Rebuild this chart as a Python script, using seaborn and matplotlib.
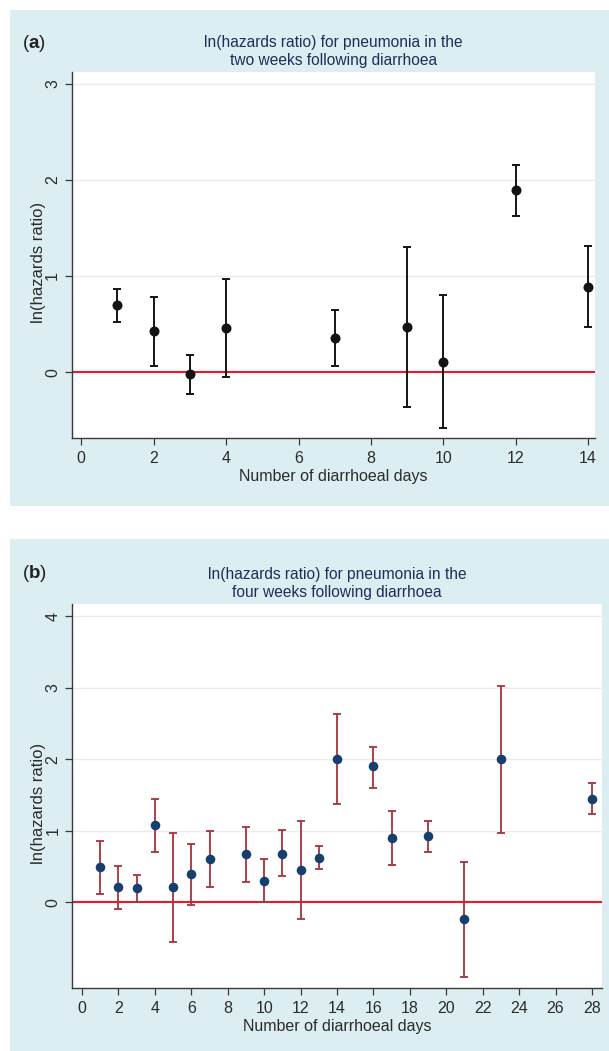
import numpy as np
import pandas as pd
import matplotlib
matplotlib.use("Agg")
import matplotlib.pyplot as plt
from matplotlib.patches import Rectangle
import seaborn as sns

# ---------------- data ----------------
days_a = [1, 2, 3, 4, 7, 9, 10, 12, 14]
est_a = [0.70, 0.43, -0.02, 0.46, 0.36, 0.47, 0.11, 1.89, 0.89]
lo_a = [0.52, 0.07, -0.23, -0.05, 0.07, -0.36, -0.58, 1.62, 0.47]
hi_a = [0.87, 0.78, 0.18, 0.97, 0.65, 1.30, 0.80, 2.15, 1.31]

days_b = [1, 2, 3, 4, 5, 6, 7, 9, 10, 11, 12, 13, 14, 16, 17, 19, 21, 23, 28]
est_b = [0.49, 0.21, 0.20, 1.08, 0.21, 0.40, 0.60, 0.67, 0.30, 0.68, 0.45, 0.62,
         2.00, 1.90, 0.90, 0.92, -0.24, 2.00, 1.45]
lo_b = [0.11, -0.10, 0.00, 0.70, -0.56, -0.04, 0.21, 0.28, 0.00, 0.36, -0.24, 0.47,
        1.38, 1.60, 0.52, 0.70, -1.04, 0.97, 1.23]
hi_b = [0.86, 0.50, 0.38, 1.45, 0.97, 0.82, 0.99, 1.05, 0.61, 1.01, 1.13, 0.78,
        2.63, 2.17, 1.27, 1.14, 0.56, 3.02, 1.66]

xticks_a = [0, 2, 4, 6, 8, 10, 12, 14]
yticks_a = [0, 1, 2, 3]
xticks_b = list(range(0, 29, 2))
yticks_b = [0, 1, 2, 3, 4]

title_a = ["ln(hazards ratio) for pneumonia in the", "two weeks following diarrhoea"]
title_b = ["ln(hazards ratio) for pneumonia in the", "four weeks following diarrhoea"]
ylabel = "ln(hazards ratio)"
xlabel = "Number of diarrhoeal days"

# ---------------- style ----------------
sns.set_theme(style="white")
plt.rcParams['font.family'] = ['Liberation Sans', 'DejaVu Sans']
plt.rcParams['mathtext.fontset'] = 'custom'
plt.rcParams['mathtext.rm'] = 'Liberation Sans'
plt.rcParams['mathtext.bf'] = 'Liberation Sans:bold'

BG = "#dceef1"
NAVY = "#1f2d5c"
TXT = "#2b2b2b"
AXC = "#3a3a3a"
ZERO = "#e8192c"

W, H = 609, 1051
fig = plt.figure(figsize=(W / 100, H / 100), dpi=100)
fig.patch.set_facecolor("white")


def fx(px):
    return px / W


def fy(py):
    return 1 - py / H


def panel(bg_box, ax_box, df, xlim, ylim, xticks, yticks, title, tag, title_y,
          mcolor, ecolor, msize, elw):
    x0, y0, x1, y1 = bg_box
    fig.patches.append(Rectangle((fx(x0), fy(y1)), fx(x1) - fx(x0), fy(y0) - fy(y1),
                                 transform=fig.transFigure, facecolor=BG,
                                 edgecolor="none", zorder=-5))
    l, t, r, b = ax_box
    ax = fig.add_axes([fx(l), fy(b), fx(r) - fx(l), fy(t) - fy(b)])
    ax.set_zorder(5)
    ax.set_facecolor("white")
    ax.set_axisbelow(True)
    for yt in yticks:
        ax.axhline(yt, color="#ececec", lw=1.0, zorder=0)
    ax.axhline(0, color=ZERO, lw=1.5, zorder=1)
    ax.errorbar(df["days"], df["est"],
                yerr=[df["est"] - df["lo"], df["hi"] - df["est"]],
                fmt="none", ecolor=ecolor, elinewidth=elw, capsize=3.2,
                capthick=elw, zorder=2)
    sns.scatterplot(data=df, x="days", y="est", ax=ax, color=mcolor, s=msize,
                    edgecolor=mcolor, linewidth=0, zorder=3, legend=False)
    ax.set_xlim(*xlim)
    ax.set_ylim(*ylim)
    ax.set_xticks(xticks)
    ax.set_yticks(yticks)
    ax.set_yticklabels([str(v) for v in yticks], rotation=90, va="center")
    for s in ["top", "right"]:
        ax.spines[s].set_visible(False)
    for s in ["left", "bottom"]:
        ax.spines[s].set_color(AXC)
        ax.spines[s].set_linewidth(1.0)
    ax.tick_params(axis="both", direction="out", length=4.8, width=0.9,
                   color=AXC, labelcolor=TXT, labelsize=11.5, pad=4.5,
                   left=True, bottom=True)
    ax.tick_params(axis="y", pad=3.5)
    ax.set_xlabel(xlabel, fontsize=11.5, color=TXT)
    ax.set_ylabel(ylabel, fontsize=12, color=TXT)
    ax.xaxis.set_label_coords(0.5, -(title_y[2] - b) / (b - t))
    ax.yaxis.set_label_coords(-(l - 38) / (r - l), 0.48)
    ax.xaxis.label.set_va("center")
    ax.yaxis.label.set_va("center")
    cx = (l + r) / 2
    fig.text(fx(cx), fy(title_y[0]), title[0], ha="center", va="center",
             fontsize=11.2, color=NAVY)
    fig.text(fx(cx), fy(title_y[1]), title[1], ha="center", va="center",
             fontsize=11.2, color=NAVY)
    fig.text(fx(22), fy(title_y[0]), r"($\mathbf{" + tag + r"}$)", ha="left",
             va="center", fontsize=13.5, color="#222222")
    return ax


df_a = pd.DataFrame({"days": days_a, "est": est_a, "lo": lo_a, "hi": hi_a})
df_b = pd.DataFrame({"days": days_b, "est": est_b, "lo": lo_b, "hi": hi_b})

panel((10, 10, 609, 506), (71.7, 72, 595, 438), df_a,
      (-0.265, 14.19), (-0.683, 3.12), xticks_a, yticks_a, title_a, "a",
      (43, 60, 476), "#141414", "#141414", 52, 1.4)

panel((10, 539, 609, 1051), (72, 604, 602, 988), df_b,
      (-0.55, 28.55), (-1.20, 4.17), xticks_b, yticks_b, title_b, "b",
      (574, 592, 1027), "#15406e", "#a8313c", 48, 1.3)

fig.savefig("out.png", dpi=100, facecolor="white")
